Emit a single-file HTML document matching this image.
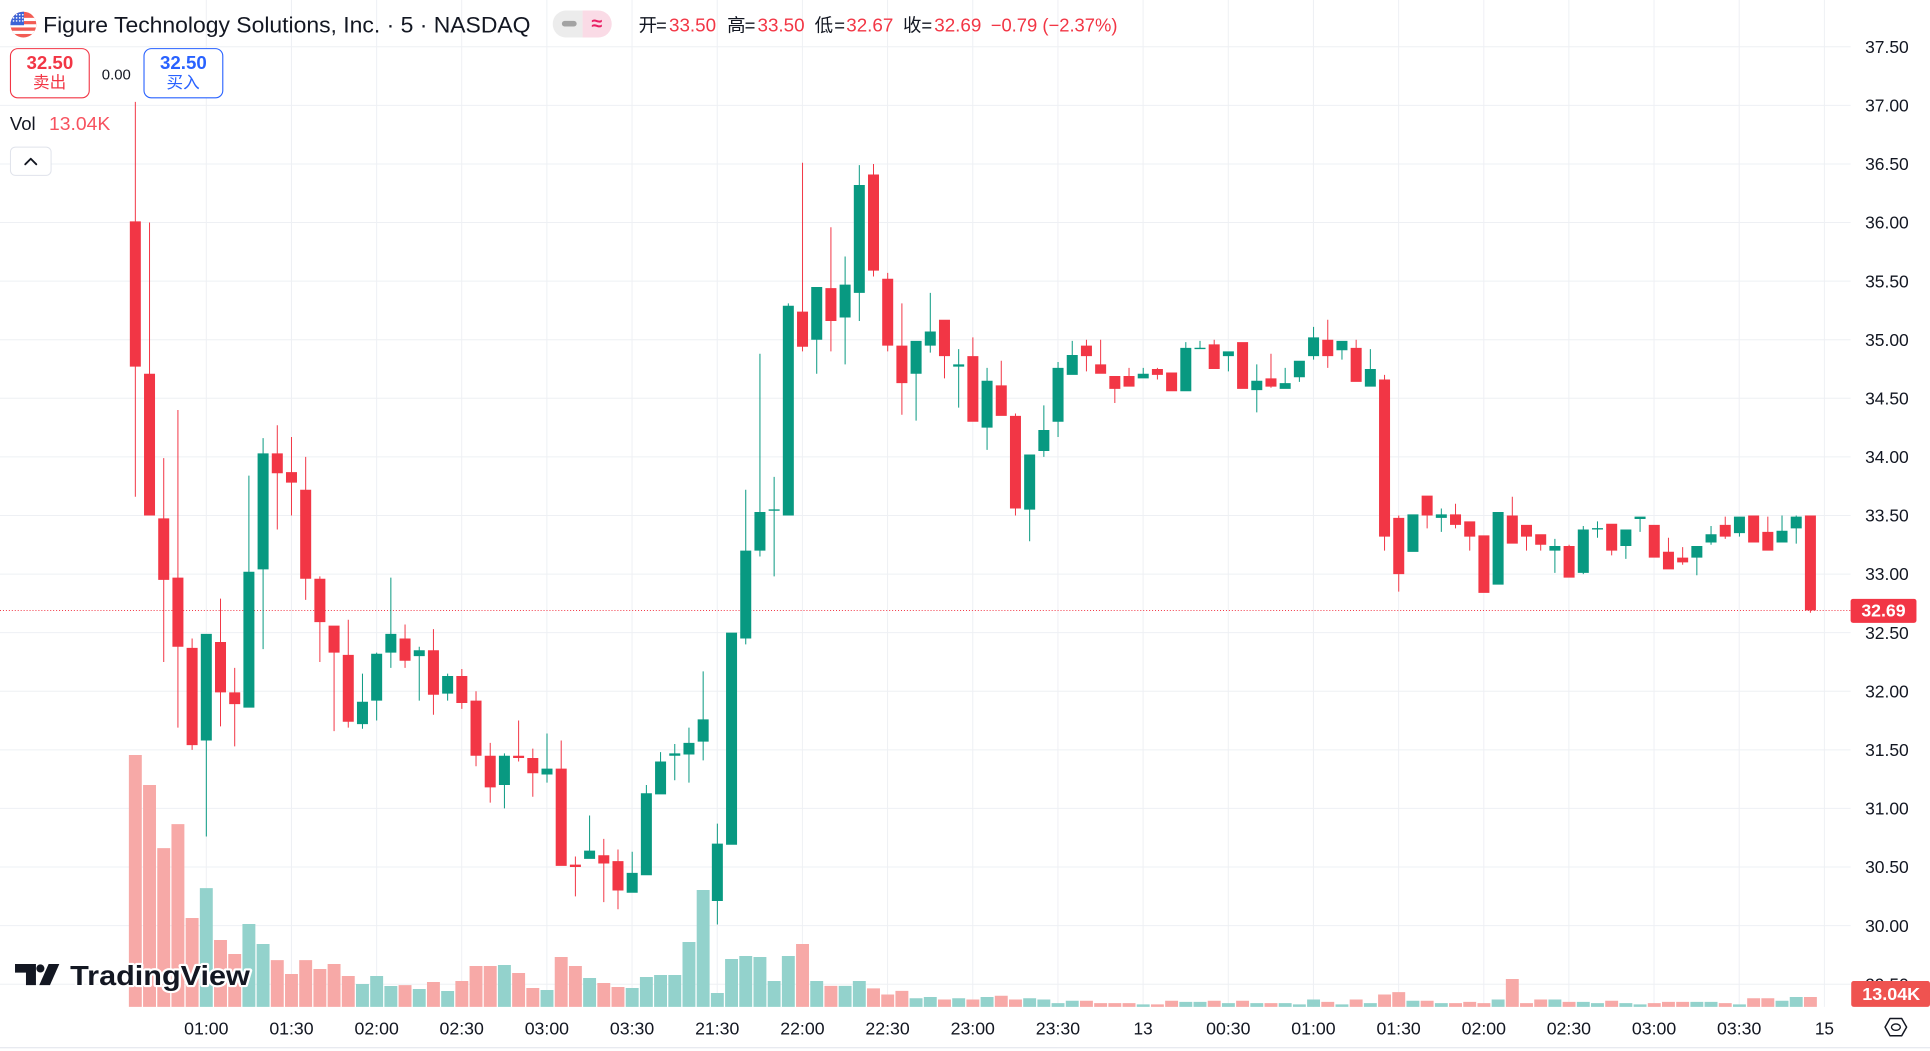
<!DOCTYPE html>
<html><head><meta charset="utf-8">
<style>
html,body{margin:0;padding:0;background:#fff;overflow:hidden}
svg{display:block}
text{font-family:"Liberation Sans","Noto Sans CJK SC",sans-serif}
</style></head>
<body>
<svg width="1930" height="1051" viewBox="0 0 1568 853.87" preserveAspectRatio="none" xmlns="http://www.w3.org/2000/svg">
<defs>
<clipPath id="fc"><circle cx="19" cy="20" r="10.5"/></clipPath>
<clipPath id="pc"><rect x="449" y="8.5" width="48" height="22" rx="11"/></clipPath>
</defs>
<rect x="0" y="0" width="1568" height="853.87" fill="#fff"/>

<!-- grid horizontal -->
<g stroke="#eef0f4" stroke-width="0.8125">
<line x1="0" y1="38" x2="1503.5" y2="38"/>
<line x1="0" y1="85.6" x2="1503.5" y2="85.6"/>
<line x1="0" y1="133.2" x2="1503.5" y2="133.2"/>
<line x1="0" y1="180.8" x2="1503.5" y2="180.8"/>
<line x1="0" y1="228.4" x2="1503.5" y2="228.4"/>
<line x1="0" y1="276" x2="1503.5" y2="276"/>
<line x1="0" y1="323.6" x2="1503.5" y2="323.6"/>
<line x1="0" y1="371.2" x2="1503.5" y2="371.2"/>
<line x1="0" y1="418.8" x2="1503.5" y2="418.8"/>
<line x1="0" y1="466.4" x2="1503.5" y2="466.4"/>
<line x1="0" y1="514" x2="1503.5" y2="514"/>
<line x1="0" y1="561.6" x2="1503.5" y2="561.6"/>
<line x1="0" y1="609.2" x2="1503.5" y2="609.2"/>
<line x1="0" y1="656.8" x2="1503.5" y2="656.8"/>
<line x1="0" y1="704.4" x2="1503.5" y2="704.4"/>
<line x1="0" y1="752" x2="1503.5" y2="752"/>
<line x1="0" y1="799.6" x2="1503.5" y2="799.6"/>
</g>
<!-- grid vertical -->
<g stroke="#eef0f4" stroke-width="0.8125">
<line x1="167.6" y1="0" x2="167.6" y2="818"/>
<line x1="236.8" y1="0" x2="236.8" y2="818"/>
<line x1="306" y1="0" x2="306" y2="818"/>
<line x1="375.1" y1="0" x2="375.1" y2="818"/>
<line x1="444.3" y1="0" x2="444.3" y2="818"/>
<line x1="513.5" y1="0" x2="513.5" y2="818"/>
<line x1="582.7" y1="0" x2="582.7" y2="818"/>
<line x1="651.9" y1="0" x2="651.9" y2="818"/>
<line x1="721.1" y1="0" x2="721.1" y2="818"/>
<line x1="790.3" y1="0" x2="790.3" y2="818"/>
<line x1="859.5" y1="0" x2="859.5" y2="818"/>
<line x1="928.7" y1="0" x2="928.7" y2="818"/>
<line x1="997.9" y1="0" x2="997.9" y2="818"/>
<line x1="1067.1" y1="0" x2="1067.1" y2="818"/>
<line x1="1136.3" y1="0" x2="1136.3" y2="818"/>
<line x1="1205.5" y1="0" x2="1205.5" y2="818"/>
<line x1="1274.6" y1="0" x2="1274.6" y2="818"/>
<line x1="1343.8" y1="0" x2="1343.8" y2="818"/>
<line x1="1413" y1="0" x2="1413" y2="818"/>
<line x1="1482.2" y1="0" x2="1482.2" y2="818"/>
</g>

<!-- volume -->
<g transform="translate(109.95 0) scale(11.533 1)">
<path fill="#f7a9a7" d="M-0.455 613.4h.91v204.6h-.91z M.545 637.8h.91v180.2h-.91z M1.545 689h.91v129h-.91z M2.545 669.5h.91v148.5h-.91z M3.545 745.8h.91v72.2h-.91z M5.545 763.7h.91v54.3h-.91z M6.545 775.1h.91v42.9h-.91z M9.545 780h.91v38h-.91z M10.545 791.3h.91v26.7h-.91z M11.545 780h.91v38h-.91z M12.545 787.3h.91v30.7h-.91z M13.545 783.2h.91v34.8h-.91z M14.545 792.9h.91v25.1h-.91z M18.545 800.3h.91v17.7h-.91z M20.545 797.8h.91v20.2h-.91z M22.545 797h.91v21h-.91z M23.545 784.8h.91v33.2h-.91z M24.545 784.8h.91v33.2h-.91z M26.545 790.5h.91v27.5h-.91z M27.545 802.7h.91v15.3h-.91z M29.545 777.5h.91v40.5h-.91z M30.545 784.8h.91v33.2h-.91z M32.545 798.6h.91v19.4h-.91z M33.545 801.9h.91v16.1h-.91z M46.545 766.9h.91v51.1h-.91z M48.545 801h.91v17h-.91z M51.545 803h.91v15h-.91z M52.545 808h.91v10h-.91z M53.545 805h.91v13h-.91z M56.545 812h.91v6h-.91z M58.545 812h.91v6h-.91z M60.545 809h.91v9h-.91z M61.545 812h.91v6h-.91z M66.545 813h.91v5h-.91z M67.545 815h.91v3h-.91z M68.545 815h.91v3h-.91z M69.545 815h.91v3h-.91z M71.545 816h.91v2h-.91z M72.545 813h.91v5h-.91z M75.545 813h.91v5h-.91z M77.545 813h.91v5h-.91z M79.545 815h.91v3h-.91z M83.545 814h.91v4h-.91z M85.545 812h.91v6h-.91z M87.545 808h.91v10h-.91z M88.545 806h.91v12h-.91z M90.545 813h.91v5h-.91z M92.545 815h.91v3h-.91z M93.545 814h.91v4h-.91z M94.545 815h.91v3h-.91z M96.545 795.4h.91v22.6h-.91z M97.545 815h.91v3h-.91z M98.545 812h.91v6h-.91z M100.545 814h.91v4h-.91z M103.545 813h.91v5h-.91z M106.545 815h.91v3h-.91z M107.545 814h.91v4h-.91z M108.545 814h.91v4h-.91z M111.545 815h.91v3h-.91z M113.545 811h.91v7h-.91z M114.545 811h.91v7h-.91z M117.545 810h.91v8h-.91z"/>
<path fill="#93d2cc" d="M4.545 721.5h.91v96.5h-.91z M7.545 750.7h.91v67.3h-.91z M8.545 766.9h.91v51.1h-.91z M15.545 799.4h.91v18.6h-.91z M16.545 792.9h.91v25.1h-.91z M17.545 801.1h.91v16.9h-.91z M19.545 803.5h.91v14.5h-.91z M21.545 805.1h.91v12.9h-.91z M25.545 784h.91v34h-.91z M28.545 804.3h.91v13.7h-.91z M31.545 794.6h.91v23.4h-.91z M34.545 802.7h.91v15.3h-.91z M35.545 793.8h.91v24.2h-.91z M36.545 792.1h.91v25.9h-.91z M37.545 792.1h.91v25.9h-.91z M38.545 765.3h.91v52.7h-.91z M39.545 723.1h.91v94.9h-.91z M40.545 806.7h.91v11.3h-.91z M41.545 779.1h.91v38.9h-.91z M42.545 776.7h.91v41.3h-.91z M43.545 777.5h.91v40.5h-.91z M44.545 797h.91v21h-.91z M45.545 776.7h.91v41.3h-.91z M47.545 797h.91v21h-.91z M49.545 801h.91v17h-.91z M50.545 797h.91v21h-.91z M54.545 811h.91v7h-.91z M55.545 810h.91v8h-.91z M57.545 811h.91v7h-.91z M59.545 810h.91v8h-.91z M62.545 811h.91v7h-.91z M63.545 812h.91v6h-.91z M64.545 815h.91v3h-.91z M65.545 813h.91v5h-.91z M70.545 816h.91v2h-.91z M73.545 814h.91v4h-.91z M74.545 814h.91v4h-.91z M76.545 815h.91v3h-.91z M78.545 815h.91v3h-.91z M80.545 815h.91v3h-.91z M81.545 816h.91v2h-.91z M82.545 812h.91v6h-.91z M84.545 816h.91v2h-.91z M86.545 815h.91v3h-.91z M89.545 813h.91v5h-.91z M91.545 815h.91v3h-.91z M95.545 812h.91v6h-.91z M99.545 812h.91v6h-.91z M101.545 814h.91v4h-.91z M102.545 815h.91v3h-.91z M104.545 815h.91v3h-.91z M105.545 816h.91v2h-.91z M109.545 814h.91v4h-.91z M110.545 814h.91v4h-.91z M112.545 816h.91v2h-.91z M115.545 813h.91v5h-.91z M116.545 810h.91v8h-.91z"/>
</g>

<!-- last price dotted line -->
<line x1="0" y1="496" x2="1503.5" y2="496" stroke="#f23645" stroke-width="0.8125" stroke-dasharray="0.8 1.6"/>

<!-- candles (price coordinates) -->
<g transform="translate(109.95 3608) scale(11.533 -95.2)">
<path fill="#089981" d="M4.965 30.76h.07v1.73h-.07z M4.6125 31.58h.775v.91h-.775z
M7.965 31.86h.07v1.98h-.07z M7.6125 31.86h.775v1.16h-.775z
M8.965 32.36h.07v1.8h-.07z M8.6125 33.04h.775v.99h-.775z
M15.965 31.68h.07v.47h-.07z M15.6125 31.72h.775v.19h-.775z
M16.965 31.75h.07v.58h-.07z M16.6125 31.92h.775v.4h-.775z
M17.965 32.2h.07v.77h-.07z M17.6125 32.33h.775v.16h-.775z
M19.965 31.92h.07v.46h-.07z M19.6125 32.3h.775v.05h-.775z
M21.965 31.92h.07v.23h-.07z M21.6125 31.98h.775v.15h-.775z
M25.965 31h.07v.47h-.07z M25.6125 31.2h.775v.25h-.775z
M28.965 31.22h.07v.42h-.07z M28.6125 31.29h.775v.05h-.775z
M31.965 30.57h.07v.37h-.07z M31.6125 30.57h.775v.07h-.775z
M34.965 30.28h.07v.35h-.07z M34.6125 30.28h.775v.17h-.775z
M35.965 30.43h.07v.77h-.07z M35.6125 30.43h.775v.7h-.775z
M36.965 31.12h.07v.36h-.07z M36.6125 31.12h.775v.28h-.775z
M37.965 31.24h.07v.31h-.07z M37.6125 31.45h.775v.02h-.775z
M38.965 31.22h.07v.47h-.07z M38.6125 31.46h.775v.1h-.775z
M39.965 31.41h.07v.76h-.07z M39.6125 31.57h.775v.19h-.775z
M40.965 30.01h.07v.86h-.07z M40.6125 30.21h.775v.49h-.775z
M41.6125 30.69h.775v1.81h-.775z
M42.965 32.4h.07v1.32h-.07z M42.6125 32.45h.775v.75h-.775z
M43.965 33.15h.07v1.73h-.07z M43.6125 33.2h.775v.33h-.775z
M44.965 32.98h.07v.85h-.07z M44.6125 33.54h.775v.012h-.775z
M45.965 33.5h.07v1.81h-.07z M45.6125 33.5h.775v1.79h-.775z
M47.965 34.71h.07v.74h-.07z M47.6125 35h.775v.45h-.775z
M49.965 34.79h.07v.92h-.07z M49.6125 35.19h.775v.28h-.775z
M50.965 35.16h.07v1.33h-.07z M50.6125 35.4h.775v.92h-.775z
M54.965 34.31h.07v.68h-.07z M54.6125 34.71h.775v.28h-.775z
M55.965 34.89h.07v.51h-.07z M55.6125 34.95h.775v.12h-.775z
M57.965 34.42h.07v.5h-.07z M57.6125 34.77h.775v.02h-.775z
M59.965 34.06h.07v.7h-.07z M59.6125 34.25h.775v.4h-.775z
M62.965 33.28h.07v.74h-.07z M62.6125 33.55h.775v.47h-.775z
M63.965 34h.07v.44h-.07z M63.6125 34.05h.775v.18h-.775z
M64.965 34.17h.07v.64h-.07z M64.6125 34.3h.775v.46h-.775z
M65.965 34.7h.07v.29h-.07z M65.6125 34.7h.775v.17h-.775z
M70.965 34.67h.07v.09h-.07z M70.6125 34.67h.775v.04h-.775z
M73.965 34.56h.07v.42h-.07z M73.6125 34.56h.775v.37h-.775z
M74.965 34.92h.07v.07h-.07z M74.6125 34.92h.775v.012h-.775z
M76.965 34.73h.07v.17h-.07z M76.6125 34.86h.775v.04h-.775z
M78.965 34.38h.07v.41h-.07z M78.6125 34.57h.775v.08h-.775z
M80.965 34.58h.07v.18h-.07z M80.6125 34.58h.775v.05h-.775z
M81.965 34.64h.07v.18h-.07z M81.6125 34.68h.775v.14h-.775z
M82.965 34.83h.07v.28h-.07z M82.6125 34.86h.775v.16h-.775z
M84.965 34.83h.07v.16h-.07z M84.6125 34.91h.775v.08h-.775z
M86.965 34.6h.07v.32h-.07z M86.6125 34.6h.775v.15h-.775z
M89.6125 33.19h.775v.32h-.775z
M91.965 33.36h.07v.2h-.07z M91.6125 33.48h.775v.03h-.775z
M95.6125 32.91h.775v.62h-.775z
M99.965 33.01h.07v.29h-.07z M99.6125 33.2h.775v.04h-.775z
M101.965 33h.07v.41h-.07z M101.6125 33.01h.775v.37h-.775z
M102.965 33.31h.07v.14h-.07z M102.6125 33.38h.775v.012h-.775z
M104.965 33.13h.07v.25h-.07z M104.6125 33.24h.775v.14h-.775z
M105.965 33.36h.07v.13h-.07z M105.6125 33.47h.775v.02h-.775z
M109.965 32.99h.07v.25h-.07z M109.6125 33.14h.775v.1h-.775z
M110.965 33.25h.07v.16h-.07z M110.6125 33.27h.775v.07h-.775z
M112.965 33.32h.07v.17h-.07z M112.6125 33.35h.775v.14h-.775z
M115.965 33.27h.07v.23h-.07z M115.6125 33.27h.775v.1h-.775z
M116.965 33.26h.07v.24h-.07z M116.6125 33.39h.775v.1h-.775z"/>
<path fill="#f23645" d="M-0.035 33.66h.07v3.37h-.07z M-0.3875 34.77h.775v1.24h-.775z
M.965 33.5h.07v2.5h-.07z M.6125 33.5h.775v1.21h-.775z
M1.965 32.25h.07v1.74h-.07z M1.6125 32.95h.775v.525h-.775z
M2.965 31.69h.07v2.71h-.07z M2.6125 32.38h.775v.59h-.775z
M3.965 31.5h.07v.95h-.07z M3.6125 31.54h.775v.83h-.775z
M5.965 31.7h.07v1.09h-.07z M5.6125 31.99h.775v.43h-.775z
M6.965 31.53h.07v.67h-.07z M6.6125 31.89h.775v.1h-.775z
M9.965 33.38h.07v.89h-.07z M9.6125 33.86h.775v.17h-.775z
M10.965 33.5h.07v.67h-.07z M10.6125 33.78h.775v.09h-.775z
M11.965 32.78h.07v1.22h-.07z M11.6125 32.96h.775v.76h-.775z
M12.965 32.25h.07v.73h-.07z M12.6125 32.59h.775v.37h-.775z
M13.965 31.66h.07v.9h-.07z M13.6125 32.33h.775v.23h-.775z
M14.965 31.69h.07v.92h-.07z M14.6125 31.74h.775v.57h-.775z
M18.965 32.2h.07v.37h-.07z M18.6125 32.26h.775v.19h-.775z
M20.965 31.8h.07v.73h-.07z M20.6125 31.97h.775v.38h-.775z
M22.965 31.85h.07v.34h-.07z M22.6125 31.9h.775v.23h-.775z
M23.965 31.36h.07v.64h-.07z M23.6125 31.45h.775v.47h-.775z
M24.965 31.05h.07v.51h-.07z M24.6125 31.18h.775v.27h-.775z
M26.965 31.4h.07v.35h-.07z M26.6125 31.43h.775v.02h-.775z
M27.965 31.1h.07v.41h-.07z M27.6125 31.3h.775v.13h-.775z
M29.965 30.51h.07v1.07h-.07z M29.6125 30.51h.775v.83h-.775z
M30.965 30.25h.07v.34h-.07z M30.6125 30.5h.775v.02h-.775z
M32.965 30.2h.07v.54h-.07z M32.6125 30.53h.775v.07h-.775z
M33.965 30.14h.07v.51h-.07z M33.6125 30.3h.775v.25h-.775z
M46.965 34.9h.07v1.61h-.07z M46.6125 34.94h.775v.3h-.775z
M48.965 34.9h.07v1.06h-.07z M48.6125 35.16h.775v.28h-.775z
M51.965 35.54h.07v.96h-.07z M51.6125 35.59h.775v.82h-.775z
M52.965 34.9h.07v.67h-.07z M52.6125 34.95h.775v.57h-.775z
M53.965 34.36h.07v.95h-.07z M53.6125 34.63h.775v.32h-.775z
M56.965 34.67h.07v.5h-.07z M56.6125 34.86h.775v.31h-.775z
M58.965 34.3h.07v.72h-.07z M58.6125 34.3h.775v.56h-.775z
M60.965 34.35h.07v.47h-.07z M60.6125 34.35h.775v.26h-.775z
M61.965 33.5h.07v.87h-.07z M61.6125 33.56h.775v.79h-.775z
M66.965 34.73h.07v.27h-.07z M66.6125 34.86h.775v.09h-.775z
M67.965 34.71h.07v.29h-.07z M67.6125 34.71h.775v.08h-.775z
M68.965 34.46h.07v.23h-.07z M68.6125 34.58h.775v.11h-.775z
M69.965 34.6h.07v.16h-.07z M69.6125 34.6h.775v.09h-.775z
M71.965 34.66h.07v.1h-.07z M71.6125 34.7h.775v.05h-.775z
M72.6125 34.56h.775v.16h-.775z
M75.965 34.75h.07v.25h-.07z M75.6125 34.75h.775v.21h-.775z
M77.6125 34.58h.775v.4h-.775z
M79.965 34.59h.07v.29h-.07z M79.6125 34.6h.775v.07h-.775z
M83.965 34.76h.07v.41h-.07z M83.6125 34.86h.775v.14h-.775z
M85.965 34.64h.07v.36h-.07z M85.6125 34.64h.775v.29h-.775z
M87.965 33.2h.07v1.5h-.07z M87.6125 33.32h.775v1.34h-.775z
M88.965 32.85h.07v.65h-.07z M88.6125 33h.775v.48h-.775z
M90.965 33.39h.07v.28h-.07z M90.6125 33.5h.775v.17h-.775z
M92.965 33.39h.07v.21h-.07z M92.6125 33.42h.775v.09h-.775z
M93.965 33.2h.07v.25h-.07z M93.6125 33.32h.775v.13h-.775z
M94.6125 32.84h.775v.49h-.775z
M96.965 33.26h.07v.4h-.07z M96.6125 33.26h.775v.24h-.775z
M97.965 33.2h.07v.22h-.07z M97.6125 33.32h.775v.1h-.775z
M98.965 33.2h.07v.14h-.07z M98.6125 33.25h.775v.09h-.775z
M100.965 32.97h.07v.28h-.07z M100.6125 32.97h.775v.27h-.775z
M103.965 33.16h.07v.27h-.07z M103.6125 33.2h.775v.23h-.775z
M106.6125 33.14h.775v.28h-.775z
M107.965 33.04h.07v.27h-.07z M107.6125 33.04h.775v.15h-.775z
M108.965 33.08h.07v.15h-.07z M108.6125 33.1h.775v.04h-.775z
M111.965 33.3h.07v.19h-.07z M111.6125 33.32h.775v.1h-.775z
M113.6125 33.27h.775v.23h-.775z
M114.965 33.2h.07v.29h-.07z M114.6125 33.2h.775v.16h-.775z
M117.965 32.67h.07v.83h-.07z M117.6125 32.69h.775v.81h-.775z"/>
</g>

<!-- header -->
<g clip-path="url(#fc)">
<rect x="8" y="9" width="22" height="22" fill="#f25c54"/>
<rect x="8" y="14.5" width="22" height="2.6" fill="#fff"/>
<rect x="8" y="19.7" width="22" height="2.6" fill="#fff"/>
<rect x="8" y="25" width="22" height="2.6" fill="#fff"/>
<rect x="8" y="9" width="11.5" height="11.5" fill="#3d63d6"/>
<g fill="#fff"><circle cx="11" cy="12" r=".7"/><circle cx="13.5" cy="12" r=".7"/><circle cx="16" cy="12" r=".7"/><circle cx="18.5" cy="12" r=".7"/><circle cx="11" cy="14.5" r=".7"/><circle cx="13.5" cy="14.5" r=".7"/><circle cx="16" cy="14.5" r=".7"/><circle cx="18.5" cy="14.5" r=".7"/><circle cx="11" cy="17" r=".7"/><circle cx="13.5" cy="17" r=".7"/><circle cx="16" cy="17" r=".7"/><circle cx="18.5" cy="17" r=".7"/></g>
</g>
<text x="35" y="26.5" font-size="18" fill="#131722" textLength="396" lengthAdjust="spacingAndGlyphs">Figure Technology Solutions, Inc. · 5 · NASDAQ</text>

<g clip-path="url(#pc)">
<rect x="449" y="8.5" width="24.3" height="22" fill="#ececec"/>
<rect x="473.3" y="8.5" width="24" height="22" fill="#fadbe6"/>
</g>
<rect x="456.5" y="17" width="12" height="4.5" rx="2.2" fill="#a3a3a3"/>
<text x="484.8" y="24.5" font-size="16" fill="#e91e63" text-anchor="middle" font-weight="bold">≈</text>

<g font-size="15">
<text x="518.8" y="25.7" fill="#131722">开</text><text x="533" y="25.7" fill="#131722">=</text><text x="543.5" y="25.7" fill="#f23645" textLength="38.3" lengthAdjust="spacingAndGlyphs">33.50</text>
<text x="590.7" y="25.7" fill="#131722">高</text><text x="605" y="25.7" fill="#131722">=</text><text x="615.4" y="25.7" fill="#f23645" textLength="38.3" lengthAdjust="spacingAndGlyphs">33.50</text>
<text x="661.8" y="25.7" fill="#131722">低</text><text x="677.8" y="25.7" fill="#131722">=</text><text x="687.5" y="25.7" fill="#f23645" textLength="38.3" lengthAdjust="spacingAndGlyphs">32.67</text>
<text x="733.6" y="25.7" fill="#131722">收</text><text x="748.6" y="25.7" fill="#131722">=</text><text x="759" y="25.7" fill="#f23645" textLength="38.3" lengthAdjust="spacingAndGlyphs">32.69</text>
<text x="804.9" y="25.7" fill="#f23645" textLength="103" lengthAdjust="spacingAndGlyphs">−0.79 (−2.37%)</text>
</g>

<!-- buy/sell -->
<rect x="8.5" y="39.5" width="64" height="40" rx="6" fill="#fff" stroke="#f23645" stroke-width="0.9"/>
<text x="40.5" y="56" font-size="15" font-weight="bold" fill="#f23645" text-anchor="middle" textLength="38" lengthAdjust="spacingAndGlyphs">32.50</text>
<text x="40.3" y="71.5" font-size="13.5" fill="#f23645" text-anchor="middle">卖出</text>
<text x="82.7" y="64.5" font-size="12.3" fill="#131722" textLength="23.6" lengthAdjust="spacingAndGlyphs">0.00</text>
<rect x="117" y="39.5" width="64" height="40" rx="6" fill="#fff" stroke="#2962ff" stroke-width="0.9"/>
<text x="149" y="56" font-size="15" font-weight="bold" fill="#2962ff" text-anchor="middle" textLength="38" lengthAdjust="spacingAndGlyphs">32.50</text>
<text x="148.8" y="71.5" font-size="13.5" fill="#2962ff" text-anchor="middle">买入</text>

<text x="8" y="105.5" font-size="15" fill="#131722" textLength="21" lengthAdjust="spacingAndGlyphs">Vol</text>
<text x="39.8" y="105.5" font-size="15" fill="#f7525f" textLength="49.8" lengthAdjust="spacingAndGlyphs">13.04K</text>

<rect x="8.5" y="119.5" width="33" height="23" rx="4" fill="#fff" stroke="#e0e3eb" stroke-width="0.8125"/>
<polyline points="20.5,133.5 25,129 29.5,133.5" fill="none" stroke="#131722" stroke-width="1.5" stroke-linecap="round" stroke-linejoin="round"/>

<!-- TradingView logo -->
<g fill="#131722">
<path d="M12.2 783.2H29.2V800.3H21.1V790.2H12.2Z"/>
<circle cx="32.8" cy="786.8" r="3.3"/>
<path d="M39.5 783.2H48.2L40.6 800.3H31.9Z"/>
</g>
<text x="57" y="800.3" font-size="22.5" font-weight="bold" fill="#131722" stroke="#fff" stroke-width="3.5" paint-order="stroke" stroke-linejoin="round" textLength="146" lengthAdjust="spacingAndGlyphs">TradingView</text>

<!-- price axis -->
<g font-size="14" fill="#131722" text-anchor="middle">
<text x="1533" y="43" textLength="35.5" lengthAdjust="spacingAndGlyphs">37.50</text>
<text x="1533" y="90.6" textLength="35.5" lengthAdjust="spacingAndGlyphs">37.00</text>
<text x="1533" y="138.2" textLength="35.5" lengthAdjust="spacingAndGlyphs">36.50</text>
<text x="1533" y="185.8" textLength="35.5" lengthAdjust="spacingAndGlyphs">36.00</text>
<text x="1533" y="233.4" textLength="35.5" lengthAdjust="spacingAndGlyphs">35.50</text>
<text x="1533" y="281" textLength="35.5" lengthAdjust="spacingAndGlyphs">35.00</text>
<text x="1533" y="328.6" textLength="35.5" lengthAdjust="spacingAndGlyphs">34.50</text>
<text x="1533" y="376.2" textLength="35.5" lengthAdjust="spacingAndGlyphs">34.00</text>
<text x="1533" y="423.8" textLength="35.5" lengthAdjust="spacingAndGlyphs">33.50</text>
<text x="1533" y="471.4" textLength="35.5" lengthAdjust="spacingAndGlyphs">33.00</text>
<text x="1533" y="519" textLength="35.5" lengthAdjust="spacingAndGlyphs">32.50</text>
<text x="1533" y="566.6" textLength="35.5" lengthAdjust="spacingAndGlyphs">32.00</text>
<text x="1533" y="614.2" textLength="35.5" lengthAdjust="spacingAndGlyphs">31.50</text>
<text x="1533" y="661.8" textLength="35.5" lengthAdjust="spacingAndGlyphs">31.00</text>
<text x="1533" y="709.4" textLength="35.5" lengthAdjust="spacingAndGlyphs">30.50</text>
<text x="1533" y="757" textLength="35.5" lengthAdjust="spacingAndGlyphs">30.00</text>
<text x="1533" y="804.6" textLength="35.5" lengthAdjust="spacingAndGlyphs">29.50</text>
</g>

<!-- last price label -->
<rect x="1503.5" y="486.5" width="53.5" height="19.5" rx="2" fill="#f23645"/>
<text x="1530.2" y="501" font-size="14" font-weight="bold" fill="#fff" text-anchor="middle" textLength="36" lengthAdjust="spacingAndGlyphs">32.69</text>
<!-- volume label -->
<rect x="1504" y="797" width="64" height="21" rx="2" fill="#ef5350"/>
<text x="1536.5" y="812.3" font-size="14" font-weight="bold" fill="#fff" text-anchor="middle" textLength="47" lengthAdjust="spacingAndGlyphs">13.04K</text>

<!-- time axis -->
<g font-size="14" fill="#131722" text-anchor="middle">
<text x="167.6" y="840.5" textLength="36" lengthAdjust="spacingAndGlyphs">01:00</text>
<text x="236.8" y="840.5" textLength="36" lengthAdjust="spacingAndGlyphs">01:30</text>
<text x="306" y="840.5" textLength="36" lengthAdjust="spacingAndGlyphs">02:00</text>
<text x="375.1" y="840.5" textLength="36" lengthAdjust="spacingAndGlyphs">02:30</text>
<text x="444.3" y="840.5" textLength="36" lengthAdjust="spacingAndGlyphs">03:00</text>
<text x="513.5" y="840.5" textLength="36" lengthAdjust="spacingAndGlyphs">03:30</text>
<text x="582.7" y="840.5" textLength="36" lengthAdjust="spacingAndGlyphs">21:30</text>
<text x="651.9" y="840.5" textLength="36" lengthAdjust="spacingAndGlyphs">22:00</text>
<text x="721.1" y="840.5" textLength="36" lengthAdjust="spacingAndGlyphs">22:30</text>
<text x="790.3" y="840.5" textLength="36" lengthAdjust="spacingAndGlyphs">23:00</text>
<text x="859.5" y="840.5" textLength="36" lengthAdjust="spacingAndGlyphs">23:30</text>
<text x="928.7" y="840.5">13</text>
<text x="997.9" y="840.5" textLength="36" lengthAdjust="spacingAndGlyphs">00:30</text>
<text x="1067.1" y="840.5" textLength="36" lengthAdjust="spacingAndGlyphs">01:00</text>
<text x="1136.3" y="840.5" textLength="36" lengthAdjust="spacingAndGlyphs">01:30</text>
<text x="1205.5" y="840.5" textLength="36" lengthAdjust="spacingAndGlyphs">02:00</text>
<text x="1274.6" y="840.5" textLength="36" lengthAdjust="spacingAndGlyphs">02:30</text>
<text x="1343.8" y="840.5" textLength="36" lengthAdjust="spacingAndGlyphs">03:00</text>
<text x="1413" y="840.5" textLength="36" lengthAdjust="spacingAndGlyphs">03:30</text>
<text x="1482.2" y="840.5">15</text>
</g>

<!-- settings icon -->
<polygon points="1531.5,834.5 1535.5,827.5 1545,827.5 1549,834.5 1545,841.5 1535.5,841.5" fill="none" stroke="#131722" stroke-width="1.2" stroke-linejoin="round"/>
<ellipse cx="1540.3" cy="834.5" rx="3.6" ry="2.6" fill="none" stroke="#131722" stroke-width="1.1"/>

<!-- bottom border -->
<line x1="0" y1="851.2" x2="1568" y2="851.2" stroke="#e0e3eb" stroke-width="0.8125"/>
</svg>
</body></html>
